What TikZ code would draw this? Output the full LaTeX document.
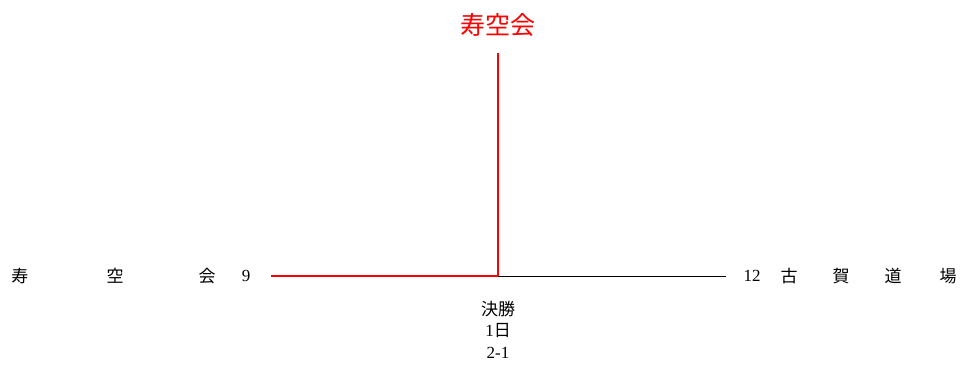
\documentclass[tikz,border=0pt]{standalone}
\usepackage{fontspec}
\setmainfont{Noto Sans CJK JP}
\newfontfamily\numfont{Liberation Serif}
\definecolor{winred}{RGB}{255,0,0}
\begin{document}
\begin{tikzpicture}[x=1pt,y=-1pt,
  lbl/.style={inner sep=0pt,font=\fontsize{17}{17}\selectfont},
  win/.style={winred,line width=2.6pt},
  lose/.style={black,line width=0.8pt}]
\useasboundingbox (0,0) rectangle (961,365);
\node[lbl] (l1) at (20,276) {寿};
\node[lbl] (l2) at (115,276) {空};
\node[lbl] (l3) at (207,276) {会};
\node[lbl] (ls) at (246,276) {\numfont 9};
\node[lbl] (rs) at (752,276) {\numfont 12};
\node[lbl] (r1) at (789,276) {古};
\node[lbl] (r2) at (841,276) {賀};
\node[lbl] (r3) at (893,276) {道};
\node[lbl] (r4) at (948,276) {場};
\coordinate (a) at (271,276);
\coordinate (m) at (498,276);
\coordinate (b) at (726,276);
\coordinate (t) at (498,53);
\draw[lose] (m) -- (b);
\draw[win,line cap=butt] (a) -- (m);
\draw[win] (m) -- (t);
\node[inner sep=0pt,text=winred,font=\fontsize{25}{25}\selectfont] (champ) at (498,25) {寿空会};
\node[lbl] (f1) at (498,309) {決勝};
\node[lbl] (f2) at (498,331) {{\numfont 1}日};
\node[lbl] (f3) at (498,353) {\numfont 2-1};
\end{tikzpicture}
\end{document}
